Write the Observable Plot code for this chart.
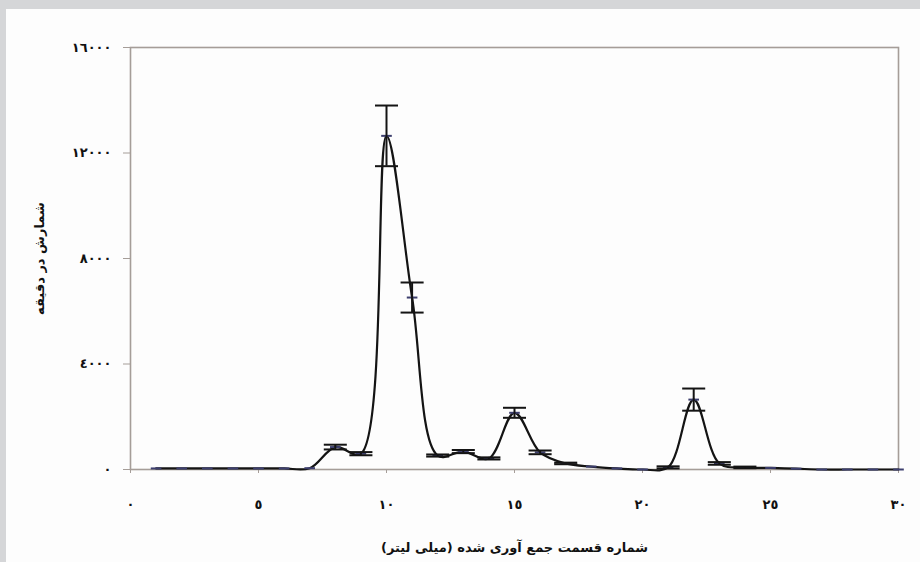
<!DOCTYPE html>
<html>
<head>
<meta charset="utf-8">
<script src="https://cdn.jsdelivr.net/npm/d3@7"></script>
<script src="https://cdn.jsdelivr.net/npm/@observablehq/plot@0.6"></script>
<style>
  html, body { margin: 0; padding: 0; }
  body { width: 920px; height: 562px; background: #d5d6d8; position: relative; overflow: hidden; }
  #panel { position: absolute; left: 6px; top: 9px; width: 914px; height: 553px; background: #fdfdfd; }
  #chart { position: absolute; left: 0; top: 0; }
  #chart svg text { font-weight: bold; -webkit-text-stroke: 0.5px #111; }
</style>
</head>
<body>
<div id="panel"></div>
<div id="chart"></div>
<script>
// Fraction number (ml) and counts per minute, with standard deviation
const fractions = [1, 2, 3, 4, 5, 6, 7, 8, 9, 10, 11, 12, 13, 14, 15, 16, 17, 18, 19, 20, 21, 22, 23, 24, 25, 26, 27, 28, 29, 30];
const counts = [40, 40, 40, 40, 40, 40, 50, 850, 600, 12650, 6520, 530, 680, 420, 2150, 650, 230, 110, 40, 0, 80, 2650, 230, 80, 60, 30, 0, 0, 0, 0];
const errors = [0, 0, 0, 0, 0, 0, 0, 90, 60, 1150, 570, 40, 60, 40, 190, 70, 30, 0, 0, 0, 40, 420, 50, 30, 0, 0, 0, 0, 0, 0];

const xTicks = [0, 5, 10, 15, 20, 25, 30];
const xTickLabels = ["٠", "٥", "١٠", "١٥", "٢٠", "٢٥", "٣٠"];
const yTicks = [0, 4000, 8000, 12000, 16000];
const yTickLabels = ["٠", "٤٠٠٠", "٨٠٠٠", "١٢٠٠٠", "١٦٠٠٠"];

const xTitle = "شماره قسمت جمع آوری شده (میلی لیتر)";
const yTitle = "شمارش در دقیقه";

const rows = fractions.map((f, i) => ({x: f, y: counts[i], e: errors[i]}));
const bars = rows.filter(d => d.e > 0);

// Horizontal dash used for point markers and error bar caps
const dash = {
  draw(context, size) {
    const w = Math.sqrt(size);
    context.moveTo(-w, 0);
    context.lineTo(w, 0);
  }
};

const axisColor = "#a59d98";

const chart = Plot.plot({
  width: 920,
  height: 562,
  marginLeft: 130,
  marginRight: 22,
  marginTop: 47,
  marginBottom: 93,
  style: {background: "transparent", fontFamily: "DejaVu Sans", fontSize: "13px", color: "#111"},
  x: {domain: [0, 30]},
  y: {domain: [0, 16000]},
  marks: [
    Plot.frame({stroke: axisColor, strokeWidth: 1.6}),
    Plot.axisY({
      ticks: yTicks, tickFormat: (d, i) => yTickLabels[i], tickSize: 7, tickPadding: 12,
      stroke: axisColor, fontSize: 13,
      label: yTitle, labelAnchor: "center", labelOffset: 96, labelArrow: "none"
    }),
    Plot.axisX({
      ticks: xTicks, tickFormat: (d, i) => xTickLabels[i], tickSize: 4, tickPadding: 26,
      stroke: axisColor, fontSize: 13,
      label: xTitle, labelAnchor: "center", labelOffset: 82, labelArrow: "none"
    }),
    Plot.line(rows, {x: "x", y: "y", curve: "catmull-rom", stroke: "#141414", strokeWidth: 2.2}),
    Plot.dot(rows, {x: "x", y: "y", symbol: dash, r: 3, stroke: "#3d3f6e", strokeWidth: 2}),
    Plot.ruleX(bars, {x: "x", y1: d => d.y - d.e, y2: d => d.y + d.e, stroke: "#141414", strokeWidth: 2}),
    Plot.dot(bars, {x: "x", y: d => d.y + d.e, symbol: dash, r: 6.5, stroke: "#141414", strokeWidth: 2}),
    Plot.dot(bars, {x: "x", y: d => d.y - d.e, symbol: dash, r: 6.5, stroke: "#141414", strokeWidth: 2})
  ]
});

document.getElementById("chart").appendChild(chart);
</script>
</body>
</html>
